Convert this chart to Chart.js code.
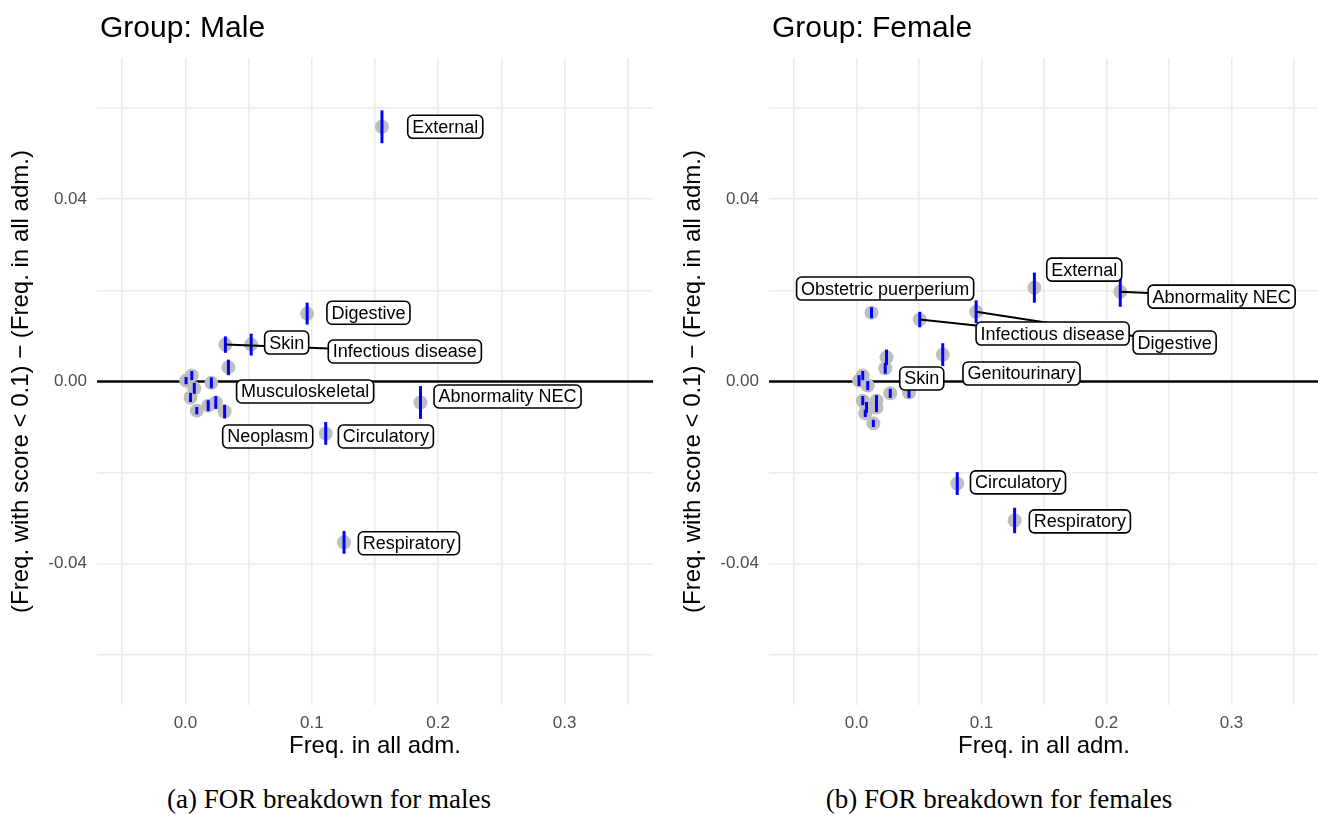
<!DOCTYPE html>
<html>
<head>
<meta charset="utf-8">
<script src="https://cdn.jsdelivr.net/npm/chart.js@4.4.1/dist/chart.umd.min.js"></script>
<style>
body { margin: 0; background: #fff; width: 1318px; height: 823px; position: relative; overflow: hidden; }
.panel { position: absolute; top: 0; }
.cap { position: absolute; top: 784px; font-family: 'Liberation Serif', serif; font-size: 27px; white-space: nowrap; transform: translateX(-50%); color: #000; }
</style>
</head>
<body>
<div class="panel" style="left:0"><canvas id="male" width="660" height="770"></canvas></div>
<div class="panel" style="left:672px"><canvas id="female" width="654" height="770"></canvas></div>
<div class="cap" style="left:329px">(a) FOR breakdown for males</div>
<div class="cap" style="left:999px">(b) FOR breakdown for females</div>
<script>
// axis ticks
const xTicks = [-0.05, 0, 0.05, 0.1, 0.15, 0.2, 0.25, 0.3, 0.35];
const yTicks = [-0.06, -0.04, -0.02, 0, 0.02, 0.04, 0.06];

// males
const maleNames = ['External', 'Digestive', 'Skin', 'Infectious disease', 'Musculoskeletal', 'Neoplasm',
    'Circulatory', 'Abnormality NEC', 'Respiratory', '', '', '', '', '', '', '', ''];
const maleFreq = [0.1555, 0.0963, 0.052, 0.0316, 0.0205, 0.031, 0.111, 0.186, 0.1255,
    0.034, 0.0005, 0.005, 0.007, 0.004, 0.009, 0.018, 0.024];
const maleDiff = [0.0559, 0.0149, 0.0081, 0.0081, -0.0003, -0.0066, -0.0114, -0.0046, -0.0353,
    0.0031, 0.0002, 0.0013, -0.0015, -0.0035, -0.0064, -0.0053, -0.0046];
const maleErr = [0.0036, 0.0024, 0.0024, 0.0018, 0.0012, 0.0015, 0.0025, 0.0036, 0.0025,
    0.0017, 0.0008, 0.0010, 0.0012, 0.0010, 0.0008, 0.0012, 0.0014];
// where the repelled labels ended up (data units) and which ones got a leader line
const maleLabelX = [0.2056, 0.1448, 0.0801, 0.1736, 0.0947, 0.0651, 0.1586, 0.2549, 0.1768];
const maleLabelY = [0.0559, 0.0151, 0.00855, 0.00658, -0.00219, -0.01206, -0.01206, -0.00329, -0.0355];
const maleLeader = [false, false, false, true, false, false, false, false, false];

// females
const femaleNames = ['External', 'Abnormality NEC', 'Obstetric puerperium', 'Infectious disease', 'Digestive',
    'Skin', 'Genitourinary', 'Circulatory', 'Respiratory', '', '', '', '', '', '', '', '', '', '', '', ''];
const femaleFreq = [0.1423, 0.211, 0.012, 0.0506, 0.0957, 0.042, 0.069, 0.0806, 0.1265,
    0.024, 0.023, 0.002, 0.005, 0.009, 0.005, 0.008, 0.007, 0.016, 0.016, 0.0135, 0.027];
const femaleDiff = [0.0206, 0.0197, 0.0151, 0.0136, 0.0153, -0.0024, 0.0059, -0.0224, -0.0305,
    0.0053, 0.0029, 0.0002, 0.0013, -0.0009, -0.0042, -0.0057, -0.007, -0.0042, -0.0057, -0.0092, -0.0026];
const femaleErr = [0.0033, 0.0033, 0.0012, 0.0017, 0.0025, 0.0012, 0.0025, 0.0025, 0.0028,
    0.0017, 0.0012, 0.0012, 0.0010, 0.0010, 0.0010, 0.0012, 0.0008, 0.0012, 0.0010, 0.0008, 0.0010];
const femaleLabelX = [0.1822, 0.2921, 0.0229, 0.1569, 0.2545, 0.0522, 0.132, 0.1292, 0.1787];
const femaleLabelY = [0.02455, 0.01863, 0.0204, 0.01052, 0.00855, 0.00066, 0.00175, -0.02214, -0.0307];
const femaleLeader = [false, true, false, true, true, false, false, false, false];

const SANS = "'Liberation Sans', Arial, sans-serif";

function roundBox(ctx, x, y, w, h, r) {
    ctx.beginPath();
    ctx.moveTo(x + r, y);
    ctx.lineTo(x + w - r, y);
    ctx.arcTo(x + w, y, x + w, y + r, r);
    ctx.lineTo(x + w, y + h - r);
    ctx.arcTo(x + w, y + h, x + w - r, y + h, r);
    ctx.lineTo(x + r, y + h);
    ctx.arcTo(x, y + h, x, y + h - r, r);
    ctx.lineTo(x, y + r);
    ctx.arcTo(x, y, x + r, y, r);
    ctx.closePath();
}

const extras = {
    id: 'extras',
    beforeDatasetsDraw(chart) {
        const { ctx, chartArea: a, scales: { y } } = chart;
        const y0 = y.getPixelForValue(0);
        ctx.save();
        ctx.strokeStyle = '#000';
        ctx.lineWidth = 2.5;
        ctx.beginPath();
        ctx.moveTo(a.left, y0);
        ctx.lineTo(a.right, y0);
        ctx.stroke();
        ctx.restore();
    },
    afterDatasetsDraw(chart, args, o) {
        const { ctx, scales: { x, y } } = chart;
        ctx.save();
        // error bars
        ctx.strokeStyle = '#0000FF';
        ctx.lineWidth = 3;
        o.freq.forEach((f, i) => {
            const px = x.getPixelForValue(f);
            ctx.beginPath();
            ctx.moveTo(px, y.getPixelForValue(o.diff[i] - o.err[i]));
            ctx.lineTo(px, y.getPixelForValue(o.diff[i] + o.err[i]));
            ctx.stroke();
        });

        // label boxes
        ctx.font = '18px ' + SANS;
        const boxes = o.lx.map((lx, i) => {
            const w = ctx.measureText(o.names[i]).width + 9;
            const h = 23;
            return { cx: x.getPixelForValue(lx), cy: y.getPixelForValue(o.ly[i]), w, h };
        });
        // leader lines first, so labels sit on top of them
        ctx.strokeStyle = '#000';
        ctx.lineWidth = 2;
        boxes.forEach((b, i) => {
            if (!o.leader[i]) return;
            const px = x.getPixelForValue(o.freq[i]);
            const py = y.getPixelForValue(o.diff[i]);
            const dx = b.cx - px, dy = b.cy - py;
            const s = Math.min(dx ? (b.w / 2) / Math.abs(dx) : Infinity, dy ? (b.h / 2) / Math.abs(dy) : Infinity);
            ctx.beginPath();
            ctx.moveTo(px, py);
            ctx.lineTo(b.cx - dx * s, b.cy - dy * s);
            ctx.stroke();
        });
        ctx.lineWidth = 1.6;
        ctx.textAlign = 'center';
        ctx.textBaseline = 'middle';
        boxes.forEach((b, i) => {
            roundBox(ctx, b.cx - b.w / 2, b.cy - b.h / 2, b.w, b.h, 5);
            ctx.fillStyle = '#fff';
            ctx.fill();
            ctx.stroke();
            ctx.fillStyle = '#000';
            ctx.fillText(o.names[i], b.cx, b.cy + 1);
        });

        // panel title
        ctx.font = '30px ' + SANS;
        ctx.textAlign = 'left';
        ctx.textBaseline = 'alphabetic';
        ctx.fillText(o.title, chart.chartArea.left + 3, 37);
        ctx.restore();
    }
};

function makeChart(id, title, names, freq, diff, err, lx, ly, leader) {
    const grid = { color: '#EBEBEB', lineWidth: 1.6, drawTicks: false };
    new Chart(document.getElementById(id), {
        type: 'scatter',
        data: {
            datasets: [{
                data: freq.map((f, i) => ({ x: f, y: diff[i] })),
                backgroundColor: '#BEBEBE',
                borderWidth: 0,
                pointRadius: 7,
                pointHoverRadius: 7
            }]
        },
        options: {
            responsive: false,
            animation: false,
            devicePixelRatio: 1,
            layout: { padding: { top: 58, left: 0, right: 0, bottom: 0 } },
            plugins: {
                legend: { display: false },
                tooltip: { enabled: false },
                extras: { title, names: names.filter(n => n), freq, diff, err, lx, ly, leader }
            },
            scales: {
                x: {
                    type: 'linear', min: -0.07, max: 0.37,
                    afterBuildTicks: s => { s.ticks = xTicks.map(v => ({ value: v })); },
                    afterFit: s => { s.height = 65; },
                    grid, border: { display: false },
                    ticks: {
                        autoSkip: false, maxRotation: 0, padding: 8, color: '#4D4D4D',
                        font: { family: SANS, size: 17 },
                        callback: v => Math.round(v * 100) % 10 === 0 ? v.toFixed(1) : ''
                    },
                    title: { display: true, text: 'Freq. in all adm.', color: '#000',
                        font: { family: SANS, size: 24 }, padding: { top: 0, bottom: 9 } }
                },
                y: {
                    type: 'linear', min: -0.071, max: 0.071,
                    afterBuildTicks: s => { s.ticks = yTicks.map(v => ({ value: v })); },
                    afterFit: s => { s.width = 97; },
                    grid, border: { display: false },
                    ticks: {
                        autoSkip: false, padding: 10, color: '#4D4D4D',
                        font: { family: SANS, size: 17 },
                        callback: v => Math.round(v * 100) % 4 === 0 ? v.toFixed(2) : ''
                    },
                    title: { display: true, text: '(Freq. with score < 0.1) \u2212 (Freq. in all adm.)', color: '#000',
                        font: { family: SANS, size: 24 }, padding: { top: 7, bottom: 0 } }
                }
            }
        },
        plugins: [extras]
    });
}

makeChart('male', 'Group: Male', maleNames, maleFreq, maleDiff, maleErr, maleLabelX, maleLabelY, maleLeader);
makeChart('female', 'Group: Female', femaleNames, femaleFreq, femaleDiff, femaleErr, femaleLabelX, femaleLabelY, femaleLeader);
</script>
</body>
</html>
